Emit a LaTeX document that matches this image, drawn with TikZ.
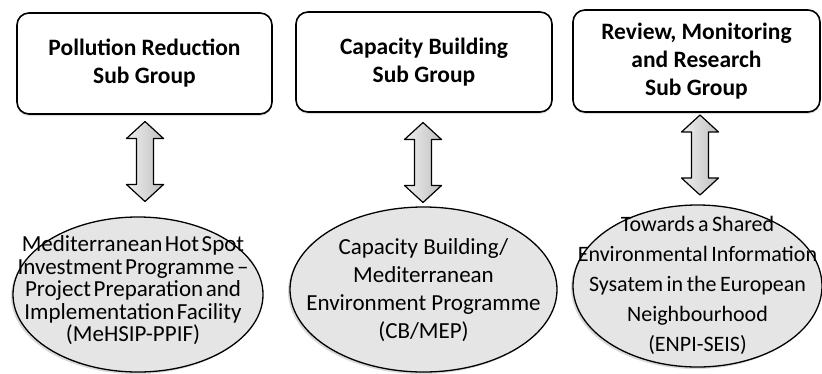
\documentclass[tikz,border=0pt]{standalone}
\usepackage{fontspec}
\setmainfont{Carlito}
\usetikzlibrary{shapes.geometric,shadows}
\newcommand{\twoway}[1]{\draw[twoway] (#1) +(0,40) -- +(18.5,23) -- +(8.5,23) -- +(8.5,-23) -- +(18.5,-23) -- +(0,-40) -- +(-18.5,-23) -- +(-8.5,-23) -- +(-8.5,23) -- +(-18.5,23) -- cycle;}
\begin{document}
\begin{tikzpicture}[x=1pt,y=1pt,line join=round,
 group/.style={draw,line width=1.6pt,rounded corners=12pt,fill=white,align=center,inner sep=0pt,
  font={\fontsize{23.5}{28}\selectfont\bfseries},
  drop shadow={shadow xshift=0pt,shadow yshift=-2pt,opacity=.25}},
 prog/.style={ellipse,draw,line width=1.3pt,fill=gray!20,inner sep=0pt,
  drop shadow={shadow xshift=-2pt,shadow yshift=-2pt,opacity=.3}},
 progtext/.style={align=center,inner sep=0pt},
 twoway/.style={draw,line width=1.2pt,left color=gray!12,right color=gray!50}]
 \useasboundingbox (0,0) rectangle (822,-373);
 \node[group,minimum width=255pt,minimum height=101pt] (pr) at (144.5,-63.5) {Pollution Reduction\\Sub Group};
 \node[group,minimum width=256pt,minimum height=100pt] (cb) at (424,-62) {Capacity Building\\Sub Group};
 \node[group,minimum width=247pt,minimum height=102pt] (rm) at (696.5,-61) {Review, Monitoring\\and Research\\Sub Group};
 \node[prog,minimum width=250pt,minimum height=155pt] (hs) at (138,-294.5) {};
 \node[prog,minimum width=267pt,minimum height=165pt] (mep) at (423.5,-289.5) {};
 \node[prog,minimum width=249pt,minimum height=162pt] (seis) at (697.5,-286) {};
 \node[progtext,font={\fontsize{23}{22.5}\selectfont\spaceskip=2.6pt plus 1pt}] (hs-t) at ([xshift=-5,yshift=4]hs.center)
  {Mediterranean Hot Spot\\Investment Programme --\\Project Preparation and\\Implementation Facility\\(MeHSIP-PPIF)};
 \node[progtext,font={\fontsize{23}{28}\selectfont}] (mep-t) at ([yshift=-1]mep.center)
  {Capacity Building/\\Mediterranean\\Environment Programme\\(CB/MEP)};
 \node[progtext,font={\fontsize{22}{30}\selectfont\spaceskip=3.5pt plus 1pt}] (seis-t) at ([yshift=1]seis.center)
  {Towards a Shared\\Environmental Information\\Sysatem in the European\\Neighbourhood\\(ENPI-SEIS)};
 \coordinate (pr-hs) at (145,-161.5);
 \coordinate (cb-mep) at (423,-162.5);
 \coordinate (rm-seis) at (700,-155);
 \twoway{pr-hs}
 \twoway{cb-mep}
 \twoway{rm-seis}
\end{tikzpicture}
\end{document}
